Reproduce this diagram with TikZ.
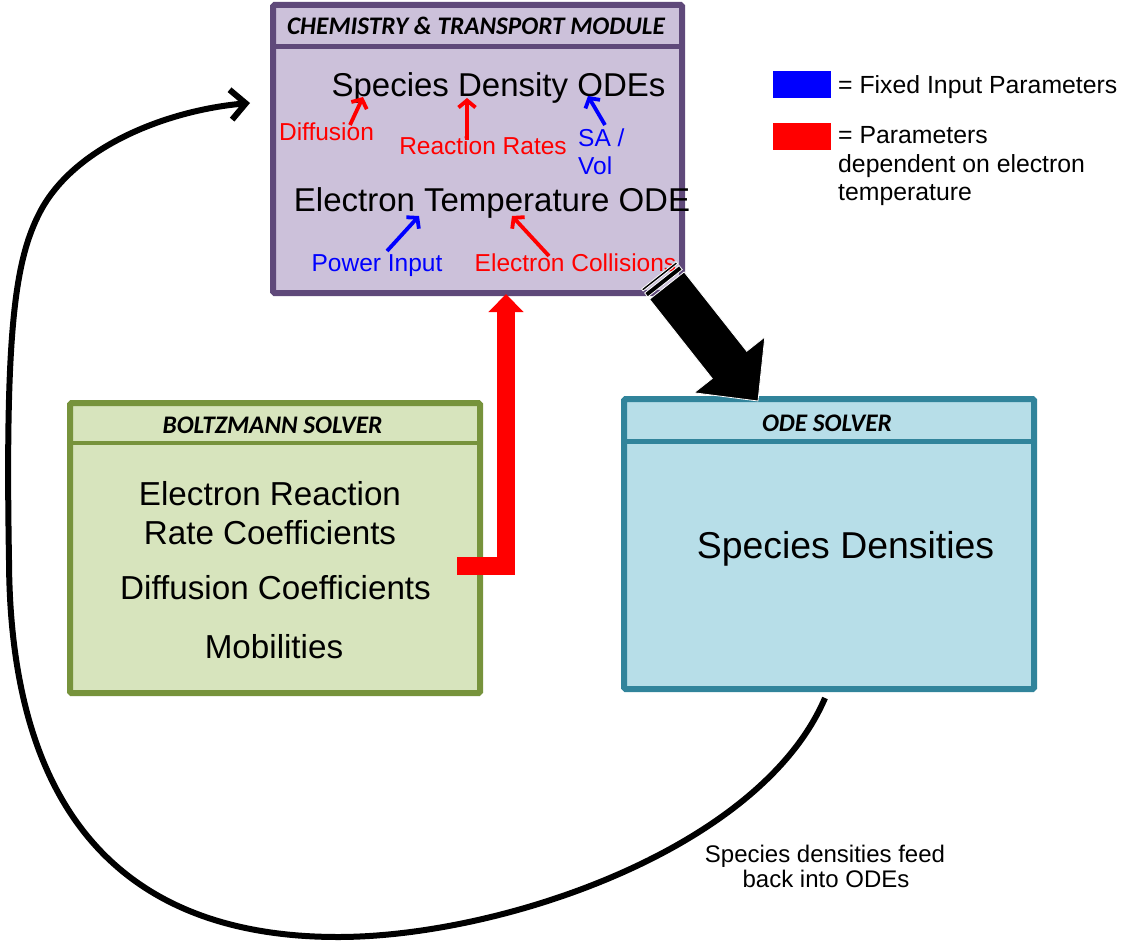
\documentclass[tikz,border=0pt]{standalone}
\usepackage{fontspec}
\setmainfont{Liberation Sans}
\newfontfamily\hdrfont{Carlito}
\usetikzlibrary{arrows.meta,calc}
\definecolor{chemfill}{HTML}{CCC1DA}
\definecolor{chemdraw}{HTML}{5F497A}
\definecolor{boltzfill}{HTML}{D7E4BD}
\definecolor{boltzdraw}{HTML}{77933C}
\definecolor{odefill}{HTML}{B7DEE8}
\definecolor{odedraw}{HTML}{31849B}
\definecolor{pblue}{HTML}{0000FF}
\definecolor{pred}{HTML}{FF0000}
\begin{document}
\begin{tikzpicture}[x=1pt,y=-1pt,
  panel/.style={rectangle, line width=6pt, rounded corners=1.5pt, inner sep=0pt},
  sepline/.style={line width=4.5pt},
  big/.style={font=\fontsize{33}{40}\selectfont, inner sep=0pt},
  mid/.style={font=\fontsize{33.2}{40}\selectfont, inner sep=0pt},
  huge/.style={font=\fontsize{37.4}{44}\selectfont, inner sep=0pt},
  lbl/.style={font=\fontsize{24.5}{29}\selectfont, inner sep=0pt},
  leg/.style={font=\fontsize{24.8}{29}\selectfont, inner sep=0pt},
  note/.style={font=\fontsize{24}{28}\selectfont, inner sep=0pt},
  hd/.style={font=\hdrfont\fontsize{25.3}{30}\selectfont\bfseries\itshape, inner sep=0pt},
  parr/.style={line width=3.8pt, -{Straight Barb[length=7pt,width=17pt]}},
]
\useasboundingbox (0,0) rectangle (1124,950);

% ---------- boxes ----------
\node[panel, fill=chemfill, draw=chemdraw, minimum width=409pt, minimum height=288pt] (chem) at (477.5,149) {};
\draw[sepline, chemdraw] ([yshift=-44.5pt]chem.north west) -- ([yshift=-44.5pt]chem.north east);

\node[panel, fill=boltzfill, draw=boltzdraw, minimum width=410pt, minimum height=290pt] (boltz) at (275,548) {};
\draw[sepline, boltzdraw] ([yshift=-43pt]boltz.north west) -- ([yshift=-43pt]boltz.north east);

\node[panel, fill=odefill, draw=odedraw, minimum width=410pt, minimum height=290pt] (ode) at (829,544) {};
\draw[sepline, odedraw] ([yshift=-45.5pt]ode.north west) -- ([yshift=-45.5pt]ode.north east);

% ---------- headers ----------
\node[hd, anchor=base] (chemhd) at (476,35) {CHEMISTRY \& TRANSPORT MODULE};
\node[hd, anchor=base] (boltzhd) at (272.5,433) {BOLTZMANN SOLVER};
\node[hd, anchor=base] (odehd) at (827,431) {ODE SOLVER};

% ---------- chemistry box contents ----------
\node[big, anchor=base] (sdo) at (498.5,96) {Species Density ODEs};
\node[big, anchor=base] (eto) at (492,211) {Electron Temperature ODE};
\node[lbl, anchor=base, text=pred] (diff) at (326.5,140) {Diffusion};
\node[lbl, anchor=base, text=pred] (rr) at (483,154) {Reaction Rates};
\node[lbl, anchor=base west, text=pblue] (sa) at (578,146) {SA /};
\node[lbl, anchor=base west, text=pblue] (vol) at (578,174) {Vol};
\node[lbl, anchor=base, text=pblue] (pin) at (377,271) {Power Input};
\node[lbl, anchor=base, text=pred] (ecol) at (575.5,271) {Electron Collisions};

\draw[parr, pred] (350,125) -- (363,97);
\draw[parr, pred] (467,140) -- (467,98);
\draw[parr, pblue] (605,125) -- (588,96);
\draw[parr, pblue] (387,251) -- (419,216);
\draw[parr, pred] (549,256) -- (512,216);

% ---------- Boltzmann contents ----------
\node[mid, anchor=base] (b1) at (270,505) {Electron Reaction};
\node[mid, anchor=base] (b2) at (270,544) {Rate Coefficients};
\node[mid, anchor=base] (b3) at (275.5,599) {Diffusion Coefficients};
\node[mid, anchor=base] (b4) at (274,658) {Mobilities};

% ---------- ODE contents ----------
\node[huge, anchor=base] (sd) at (845.5,558) {Species Densities};

% ---------- legend ----------
\node[rectangle, fill=pblue, minimum width=58pt, minimum height=27pt, inner sep=0pt] (lb) at (802,84.5) {};
\node[rectangle, fill=pred, minimum width=58pt, minimum height=27pt, inner sep=0pt] (lr) at (802,136.5) {};
\node[leg, anchor=base west] (l1) at (838,93) {= Fixed Input Parameters};
\node[leg, anchor=base west] (l2) at (838,143) {= Parameters};
\node[leg, anchor=base west] (l3) at (838,172) {dependent on electron};
\node[leg, anchor=base west] (l4) at (838,200.5) {temperature};

% ---------- red L arrow (Boltzmann -> chemistry) ----------
\coordinate (rfoot) at (457,566);
\coordinate (rcorner) at (506,566);
\coordinate (rtip) at (506,294);
\draw[pred, line width=18pt, -{Triangle[length=18pt,width=34pt]}] (rfoot) -- (rcorner) -- (rtip);

% ---------- black striped arrow (chemistry -> ODE) ----------
\fill[black, draw=white, line width=0.8pt]
  (684.13,271.96) -- (746.75,351.25) -- (764.81,336.99) -- (758,401) --
  (694.15,392.79) -- (712.21,378.53) -- (649.59,299.24) -- cycle;
\fill[black, draw=white, line width=0.8pt]
  (682.27,269.61) -- (679.17,265.68) -- (644.63,292.96) -- (647.73,296.89) -- cycle;
\fill[black, draw=white, line width=0.8pt]
  (677.62,263.72) -- (676.07,261.76) -- (641.53,289.04) -- (643.08,291.0) -- cycle;

% ---------- feedback curve ----------
\coordinate (fbs) at (825,698);
\coordinate (fbe) at (250,103);
\draw[line width=6pt, line join=round, -{Straight Barb[length=15pt,width=30pt]}]
  (fbs) .. controls (760,850) and (500,937) .. (338,937)
        .. controls (130,937) and (10,820) .. (9,560)
        .. controls (5,330) and (15,260) .. (40,212)
        .. controls (75,145) and (170,110) .. (fbe);
\node[note, anchor=base] (fb1) at (825,862) {Species densities feed};
\node[note, anchor=base] (fb2) at (826,887) {back into ODEs};
\end{tikzpicture}
\end{document}
